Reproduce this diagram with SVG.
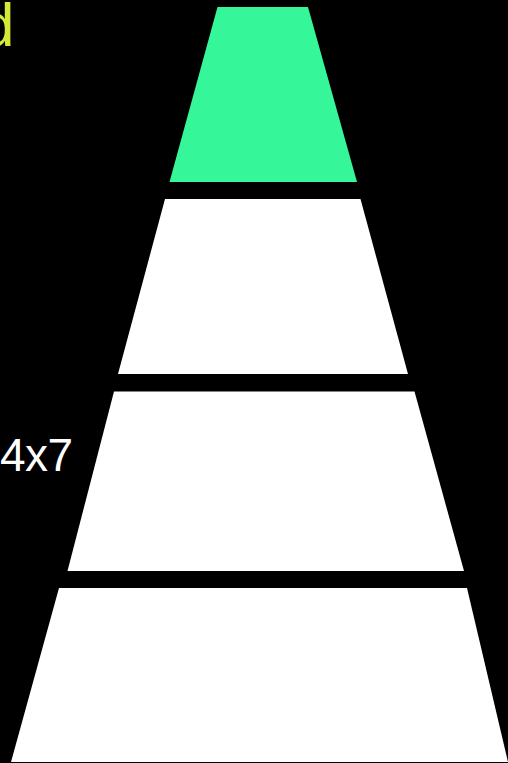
<svg xmlns="http://www.w3.org/2000/svg" width="508" height="763" viewBox="0 0 508 763">
<style>
.bg{fill:#000}
.layer{fill:#fff}
.top{fill:#35f79a}
.lbl{font-family:"Liberation Sans",Arial,sans-serif;font-size:46px;fill:#fff}
.ttl{font-family:"Liberation Sans",Arial,sans-serif;font-size:62px;fill:#d4e83a}
</style>
<rect class="bg" x="0" y="0" width="508" height="763"/>
<g id="title"><text class="ttl" x="-20" y="46">d</text></g>
<g id="layer1"><polygon class="top" points="217.5,7 308,7 357,182 169.5,182"/></g>
<g id="layer2"><polygon class="layer" points="165,199 360.5,199 408,374 118,374"/></g>
<g id="layer3"><polygon class="layer" points="114,391.5 414.5,391.5 464,571 67.5,571"/></g>
<g id="layer4"><polygon class="layer" points="59,588 467,588 508,762 11,762"/></g>
<g id="label"><text class="lbl" x="0" y="471" textLength="73">4x7</text></g>
<g id="connectors"/>
</svg>
